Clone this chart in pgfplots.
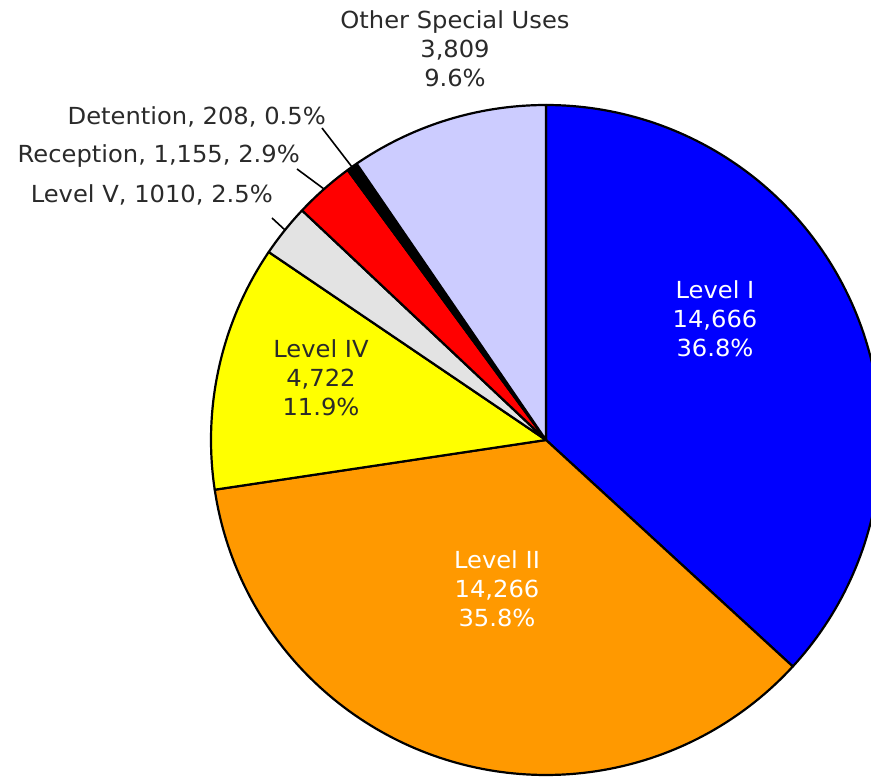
\documentclass[border=0pt]{standalone}
\usepackage{pgfplots}
\pgfplotsset{compat=1.18}
\usepackage{pgfplotstable}
\usepackage{fontspec}
\setmainfont{DejaVu Sans}[FakeStretch=1.03]

\definecolor{cI}{HTML}{0000FF}
\definecolor{cII}{HTML}{FF9900}
\definecolor{cIV}{HTML}{FFFF00}
\definecolor{cV}{HTML}{E3E3E3}
\definecolor{cRec}{HTML}{FF0000}
\definecolor{cDet}{HTML}{000000}
\definecolor{cOth}{HTML}{CCCCFF}
\definecolor{txt}{HTML}{2A2A2A}

\newcommand\lblfont{\fontsize{23.5pt}{29pt}\selectfont}
\tikzset{pl/.style={font=\lblfont, inner sep=0pt, text=txt}}

% Housing counts by category (clockwise from 12 o'clock)
\pgfplotstableread{
label value
LevelI 14666
LevelII 14266
LevelIV 4722
LevelV 1010
Reception 1155
Detention 208
Other 3809
}\piedata

\newcommand\pieslice[3]{%
  \addplot[fill=#1, draw=black, line width=2.2pt, line join=round,
    domain=#3:#2, samples=120]
    ({546+335*cos(x)},{337+335*sin(x)}) -- (axis cs:546,337) -- cycle;}

\begin{document}
\begin{tikzpicture}
% cumulative angles
\def\total{0}
\pgfplotsforeachungrouped \i in {0,...,6}{%
  \pgfplotstablegetelem{\i}{value}\of\piedata
  \pgfmathsetmacro\total{\total+\pgfplotsretval/1000}%
  \xdef\total{\total}%
}
\def\cum{0}
\pgfplotsforeachungrouped \i in {0,...,6}{%
  \pgfplotstablegetelem{\i}{value}\of\piedata
  \pgfmathsetmacro\startang{90-360*\cum/\total}%
  \pgfmathsetmacro\cum{\cum+\pgfplotsretval/1000}%
  \xdef\cum{\cum}%
  \pgfmathsetmacro\endang{90-360*\cum/\total}%
  \pgfmathtruncatemacro\j{\i+1}%
  \expandafter\xdef\csname pieS\romannumeral\j\endcsname{\startang}%
  \expandafter\xdef\csname pieE\romannumeral\j\endcsname{\endang}%
}
\begin{axis}[
  x=1pt, y=1pt, xmin=0, xmax=871, ymin=0, ymax=777,
  scale only axis, hide axis, clip=true,
  at={(0,0)}, anchor=south west,
]
\pieslice{cI}{\pieSi}{\pieEi}
\pieslice{cII}{\pieSii}{\pieEii}
\pieslice{cIV}{\pieSiii}{\pieEiii}
\pieslice{cV}{\pieSiv}{\pieEiv}
\pieslice{cRec}{\pieSv}{\pieEv}
\pieslice{cDet}{\pieSvi}{\pieEvi}
\pieslice{cOth}{\pieSvii}{\pieEvii}

% labels inside
\node[pl, anchor=base, text=white] at (axis cs:715,478) {Level I};
\node[pl, anchor=base, text=white] at (axis cs:715,449) {14,666};
\node[pl, anchor=base, text=white] at (axis cs:715,420) {36.8\%};

\node[pl, anchor=base, text=white] at (axis cs:497,208) {Level II};
\node[pl, anchor=base, text=white] at (axis cs:497,179) {14,266};
\node[pl, anchor=base, text=white] at (axis cs:497,150) {35.8\%};

\node[pl, anchor=base] at (axis cs:321,419) {Level IV};
\node[pl, anchor=base] at (axis cs:321,390) {4,722};
\node[pl, anchor=base] at (axis cs:321,361) {11.9\%};

% outside labels
\node[pl, anchor=base] at (axis cs:455,748) {Other Special Uses};
\node[pl, anchor=base] at (axis cs:455,719) {3,809};
\node[pl, anchor=base] at (axis cs:455,690) {9.6\%};

\node[pl, anchor=base east] at (axis cs:326,652) {Detention, 208, 0.5\%};
\node[pl, anchor=base east] at (axis cs:300,614) {Reception, 1,155, 2.9\%};
\node[pl, anchor=base east] at (axis cs:273,574) {Level V, 1010, 2.5\%};

% leader lines
\draw[line width=1.6pt, black] (axis cs:322,649) -- (axis cs:352,610);
\draw[line width=1.6pt, black] (axis cs:297,608) -- (axis cs:324,588);
\draw[line width=1.6pt, black] (axis cs:272,559) -- (axis cs:285,547);
\end{axis}
\pgfresetboundingbox
\path[use as bounding box] (0,0) rectangle (871pt,777pt);
\end{tikzpicture}
\end{document}
